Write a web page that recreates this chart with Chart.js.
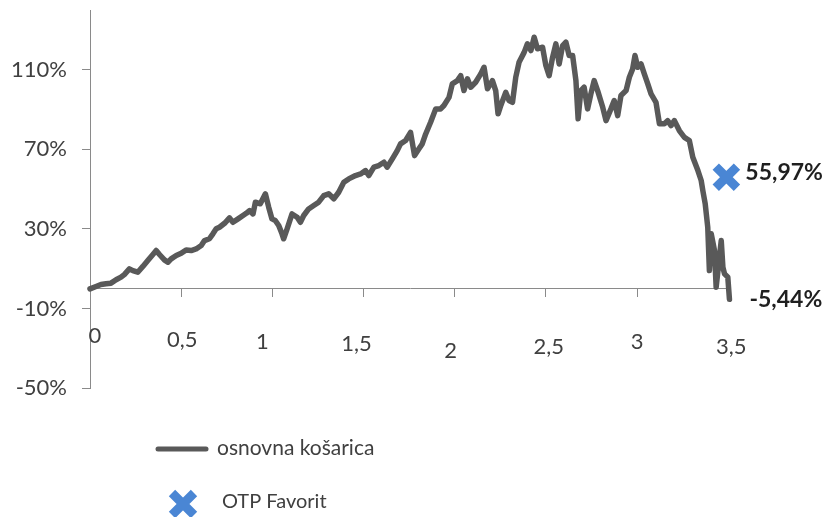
<!DOCTYPE html>
<html>
<head>
<meta charset="utf-8">
<script src="https://cdn.jsdelivr.net/npm/chart.js@4/dist/chart.umd.min.js"></script>
<style>
    html, body { margin: 0; padding: 0; background: #fff; }
    #wrap { width: 831px; height: 517px; }
</style>
</head>
<body>
<div id="wrap"><canvas id="chart" width="831" height="517"></canvas></div>
<script>
/*** podaci ***/
const basketX = [
    0.000, 0.033, 0.060, 0.088, 0.115, 0.143, 0.170, 0.188, 0.216, 0.235,
    0.262, 0.290, 0.317, 0.345, 0.363, 0.381, 0.408, 0.427, 0.445, 0.473,
    0.500, 0.527, 0.555, 0.582, 0.610, 0.628, 0.655, 0.674, 0.692, 0.710,
    0.738, 0.765, 0.784, 0.812, 0.839, 0.857, 0.875, 0.894, 0.907, 0.934,
    0.962, 0.980, 0.998, 1.016, 1.035, 1.053, 1.062, 1.081, 1.108, 1.136,
    1.154, 1.172, 1.199, 1.227, 1.254, 1.282, 1.309, 1.337, 1.364, 1.392,
    1.419, 1.456, 1.484, 1.511, 1.529, 1.557, 1.584, 1.612, 1.630, 1.658,
    1.685, 1.703, 1.731, 1.758, 1.780, 1.804, 1.822, 1.841, 1.868, 1.896,
    1.923, 1.941, 1.969, 1.987, 2.015, 2.033, 2.051, 2.070, 2.088, 2.115,
    2.143, 2.161, 2.180, 2.207, 2.225, 2.238, 2.253, 2.280, 2.298, 2.317,
    2.335, 2.353, 2.381, 2.399, 2.418, 2.436, 2.454, 2.482, 2.500, 2.518,
    2.537, 2.555, 2.573, 2.592, 2.610, 2.628, 2.647, 2.665, 2.677, 2.692,
    2.710, 2.729, 2.747, 2.765, 2.784, 2.812, 2.830, 2.857, 2.875, 2.894,
    2.912, 2.940, 2.958, 2.976, 2.989, 3.004, 3.022, 3.040, 3.059, 3.077,
    3.104, 3.123, 3.150, 3.168, 3.187, 3.205, 3.232, 3.260, 3.287, 3.306,
    3.334, 3.352, 3.361, 3.374, 3.388, 3.397, 3.407, 3.425, 3.434, 3.452,
    3.462, 3.471, 3.480, 3.498, 3.507
];
const basketY = [
    -0.2, 1.0, 2.0, 2.4, 2.7, 4.4, 5.7, 7.0, 9.9, 9.0,
    8.2, 11.1, 14.1, 17.1, 19.1, 17.1, 14.4, 13.2, 14.9, 16.6,
    17.7, 19.4, 19.1, 19.9, 21.6, 24.1, 25.0, 27.5, 30.0, 30.8,
    32.8, 35.5, 33.3, 35.0, 36.7, 37.8, 39.2, 37.5, 43.4, 42.6,
    47.6, 40.9, 35.0, 34.2, 31.7, 27.5, 25.0, 30.0, 37.5, 35.8,
    33.3, 36.7, 40.0, 41.7, 43.4, 46.7, 47.6, 45.1, 48.4, 53.4,
    55.1, 56.8, 57.6, 59.3, 56.8, 61.0, 61.8, 63.5, 61.0, 65.2,
    69.3, 72.7, 74.4, 78.5, 66.8, 70.2, 72.7, 77.7, 83.6, 90.3,
    90.3, 92.0, 96.1, 102.9, 104.5, 107.0, 99.5, 105.4, 101.2, 103.7,
    107.9, 111.2, 100.4, 104.5, 99.5, 87.8, 92.0, 98.6, 94.5, 93.6,
    106.2, 113.7, 118.7, 123.0, 119.6, 126.3, 120.5, 121.3, 112.1, 107.0,
    116.2, 123.0, 112.9, 122.1, 123.8, 117.1, 117.1, 104.5, 85.3, 99.5,
    101.2, 90.3, 97.8, 104.5, 99.5, 91.1, 84.4, 90.3, 94.5, 86.9,
    97.0, 99.5, 106.2, 110.4, 117.1, 111.2, 112.9, 107.9, 102.9, 97.8,
    93.6, 82.8, 82.8, 84.4, 81.9, 84.4, 79.4, 76.0, 74.4, 66.0,
    59.3, 54.3, 49.2, 42.6, 30.8, 9.0, 27.5, 19.1, 0.7, 15.7,
    24.1, 10.7, 7.4, 5.7, -5.44
];
const otpX = [3.49];
const otpY = [55.97];

const xTickValues = [0, 0.5, 1, 1.5, 2, 2.5, 3, 3.5];
const xTickLabels = ['0', '0,5', '1', '1,5', '2', '2,5', '3', '3,5'];
const yTickValues = [-50, -10, 30, 70, 110];

const seriesNames = ['osnovna košarica', 'OTP Favorit'];

/*** stil ***/
const LINE_COLOR = '#595959';
const OTP_COLOR = '#4a86d4';
const AXIS_COLOR = '#8a8a8a';
const TEXT_COLOR = '#404040';
const FONT = 'Lato, "DejaVu Sans", sans-serif';

// ručno "razbacane" oznake x osi kao na originalu: [dx, dy od osi]
const xLabelNudge = [[5, 54], [1, 58], [-10, 60], [-7, 62], [-4, 69], [3, 65], [0, 60], [3, 65]];

function pct(v) {
    return v.toFixed(2).replace('.', ',') + '%';
}

function drawX(ctx, cx, cy, r, w, color) {
    ctx.save();
    ctx.strokeStyle = color;
    ctx.lineWidth = w;
    ctx.lineCap = 'butt';
    ctx.beginPath();
    ctx.moveTo(cx - r, cy - r); ctx.lineTo(cx + r, cy + r);
    ctx.moveTo(cx - r, cy + r); ctx.lineTo(cx + r, cy - r);
    ctx.stroke();
    ctx.restore();
}

/*** oznake, legenda ***/
const extraText = {
    id: 'extraText',
    afterDraw(chart) {
        const ctx = chart.ctx;
        const xs = chart.scales.x, ys = chart.scales.y;
        const axisY = ys.getPixelForValue(0);
        ctx.save();

        ctx.font = '22px ' + FONT;
        ctx.fillStyle = TEXT_COLOR;
        ctx.textAlign = 'center';
        ctx.textBaseline = 'alphabetic';
        xTickLabels.forEach((t, i) => {
            const [dx, dy] = xLabelNudge[i];
            ctx.fillText(t, xs.getPixelForValue(xTickValues[i]) + dx, axisY + dy);
        });

        // vrijednosti na kraju serija
        ctx.font = 'bold 23px ' + FONT;
        ctx.fillStyle = '#1f1f1f';
        ctx.textAlign = 'left';
        const lineMeta = chart.getDatasetMeta(0).data;
        const lastPt = lineMeta[lineMeta.length - 1];
        ctx.fillText(pct(basketY[basketY.length - 1]), lastPt.x + 20, lastPt.y + 8);
        const otpPt = chart.getDatasetMeta(1).data[0];
        ctx.fillText(pct(otpY[0]), otpPt.x + 19, otpPt.y + 3);

        // legenda
        ctx.strokeStyle = LINE_COLOR;
        ctx.lineWidth = 5;
        ctx.lineCap = 'round';
        ctx.beginPath();
        ctx.moveTo(158, 449);
        ctx.lineTo(206, 449);
        ctx.stroke();
        ctx.font = '21px ' + FONT;
        ctx.fillStyle = TEXT_COLOR;
        ctx.textBaseline = 'middle';
        ctx.fillText(seriesNames[0], 217, 448);
        drawX(ctx, 183, 504, 11, 9, OTP_COLOR);
        ctx.font = '20px ' + FONT;
        ctx.fillText(seriesNames[1], 222, 502);

        ctx.restore();
    }
};

const ctx = document.getElementById('chart').getContext('2d');
const chart = new Chart(ctx, {
    type: 'line',
    data: {
        datasets: [
            {
                label: seriesNames[0],
                data: basketX.map((x, i) => ({ x: x, y: basketY[i] })),
                borderColor: LINE_COLOR,
                borderWidth: 5.5,
                borderJoinStyle: 'round',
                borderCapStyle: 'round',
                pointRadius: 0,
                tension: 0,
                clip: false
            },
            {
                label: seriesNames[1],
                data: otpX.map((x, i) => ({ x: x, y: otpY[i] })),
                showLine: false,
                pointStyle: 'crossRot',
                pointRadius: 15,
                pointBorderWidth: 9,
                pointBorderColor: OTP_COLOR,
                pointBackgroundColor: OTP_COLOR,
                clip: false
            }
        ]
    },
    options: {
        responsive: false,
        animation: false,
        devicePixelRatio: 1,
        layout: {
            autoPadding: false,
            padding: { top: 10, bottom: 129, left: 0, right: 101 }
        },
        plugins: {
            legend: { display: false },
            tooltip: { enabled: false }
        },
        scales: {
            x: {
                type: 'linear',
                position: { y: 0 },
                min: 0,
                max: 3.51,
                afterBuildTicks: (scale) => {
                    scale.ticks = xTickValues.map(v => ({ value: v }));
                },
                afterFit: (scale) => { scale.height = 0; },
                ticks: { display: false },
                grid: {
                    drawOnChartArea: false,
                    drawTicks: true,
                    tickLength: 8,
                    color: AXIS_COLOR
                },
                border: { display: true, color: AXIS_COLOR, width: 1 }
            },
            y: {
                min: -50,
                max: 140,
                afterBuildTicks: (scale) => {
                    scale.ticks = yTickValues.map(v => ({ value: v }));
                },
                afterFit: (scale) => {
                    scale.width = 90;
                    scale.paddingTop = 0;
                    scale.paddingBottom = 0;
                },
                ticks: {
                    padding: 15,
                    color: TEXT_COLOR,
                    font: { family: FONT, size: 22 },
                    callback: (v) => v + '%'
                },
                grid: {
                    drawOnChartArea: false,
                    drawTicks: true,
                    tickLength: 8,
                    color: AXIS_COLOR
                },
                border: { display: true, color: AXIS_COLOR, width: 1 }
            }
        }
    },
    plugins: [extraText]
});
</script>
</body>
</html>
